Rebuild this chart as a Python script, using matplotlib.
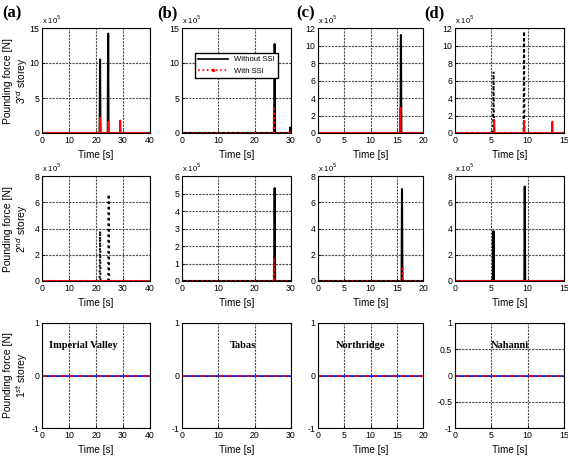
import matplotlib
matplotlib.use('Agg')
import matplotlib.pyplot as plt

plt.rcParams['font.family'] = ['Liberation Sans', 'DejaVu Sans']

# earthquake records, one column each
quakes = ['Imperial Valley', 'Tabas', 'Northridge', 'Nahanni']
panel_tags = ['(a)', '(b)', '(c)', '(d)']
t_max = [40, 30, 20, 15]
x_ticks = [[0, 10, 20, 30, 40], [0, 10, 20, 30], [0, 5, 10, 15, 20], [0, 5, 10, 15]]

# pounding force peaks (time [s], force x1e5 N)
s3_without = [[(21.5, 10.5), (24.5, 14.2)],
              [(25.5, 12.7), (29.8, 0.8)],
              [(15.8, 11.2)],
              [(5.3, 7.0), (9.5, 11.6)]]
s3_with = [[(21.5, 2.2), (24.5, 1.6), (29.0, 1.8)],
           [(25.3, 3.8), (29.8, 0.3)],
           [(15.7, 2.9)],
           [(5.4, 1.5), (9.5, 1.4), (13.4, 1.3)]]
s2_without = [[(21.5, 3.8), (24.7, 6.6)],
              [(25.5, 5.3)],
              [(16.0, 7.0)],
              [(5.3, 3.8), (9.6, 7.2)]]
s2_with = [[], [(25.3, 1.3)], [(16.1, 1.1)], []]
s1_without = [[], [], [], []]
s1_with = [[], [], [], []]

ylim_3 = [15, 15, 12, 12]
yticks_3 = [[0, 5, 10, 15], [0, 5, 10, 15], [0, 2, 4, 6, 8, 10, 12], [0, 2, 4, 6, 8, 10, 12]]
ylim_2 = [8, 6, 8, 8]
yticks_2 = [[0, 2, 4, 6, 8], [0, 1, 2, 3, 4, 5, 6], [0, 2, 4, 6, 8], [0, 2, 4, 6, 8]]
yticks_1 = [[-1, 0, 1], [-1, 0, 1], [-1, 0, 1], [-1, -0.5, 0, 0.5, 1]]

# which spikes look dotted in the original
dotted_3 = [False, False, False, True]
dotted_2 = [True, False, False, False]


def spike_series(spikes, tmax, w=0.004):
    ts = [0.0]
    fs = [0.0]
    dw = w * tmax
    for t, p in spikes:
        ts += [t - dw, t, t + dw]
        fs += [0.0, p, 0.0]
    ts.append(tmax)
    fs.append(0.0)
    return ts, fs


W, H = 568, 457
fig = plt.figure(figsize=(W / 100, H / 100), dpi=100)

lefts = [42, 182, 318, 455]
widths = [108, 109, 105, 109]
tops = [28, 176, 323]
ht = 105
tag_x = [2, 157, 296, 424]


def make_ax(col, row):
    l = lefts[col] / W
    b = 1 - (tops[row] + ht) / H
    ax = fig.add_axes([l, b, widths[col] / W, ht / H])
    ax.grid(True, color='0.3', linestyle=(0, (2, 1)), linewidth=0.8)
    ax.tick_params(labelsize=6.3, length=2, width=0.6, direction='in', pad=2)
    for s in ax.spines.values():
        s.set_linewidth(0.8)
    ax.set_xlabel('Time [s]', fontsize=7.2, labelpad=4)
    return ax


def add_scale(ax):
    ax.text(0.0, 1.02, r'x 10$^5$', transform=ax.transAxes, fontsize=5.5,
            ha='left', va='bottom')


for c in range(4):
    tm = t_max[c]

    # 3rd storey
    ax = make_ax(c, 0)
    t, f = spike_series(s3_without[c], tm)
    ls = ':' if dotted_3[c] else '-'
    ax.plot(t, f, color='black', linewidth=1.5, linestyle=ls)
    t, f = spike_series(s3_with[c], tm)
    ls_r = ':' if c == 1 else '-'
    ax.plot(t, f, color='red', linewidth=1.3, linestyle=ls_r)
    ax.set_xlim(0, tm)
    ax.set_ylim(0, ylim_3[c])
    ax.set_xticks(x_ticks[c])
    ax.set_yticks(yticks_3[c])
    add_scale(ax)
    if c == 1:
        h1, = ax.plot([], [], color='black', linewidth=1.2)
        h2, = ax.plot([], [], color='red', linewidth=1.2, linestyle=':',
                      marker='.', markersize=3)
        ax.legend([h1, h2], ['Without SSI', 'With SSI'], loc='upper left',
                  bbox_to_anchor=(0.08, 0.80), fontsize=5.5, frameon=True,
                  fancybox=False, edgecolor='black', framealpha=1,
                  handlelength=4, borderpad=0.4, labelspacing=0.6)
    fig.text(tag_x[c] / W, 1 - 13 / H, panel_tags[c], fontsize=12,
             fontweight='bold', family=['Liberation Serif', 'DejaVu Serif'],
             ha='left', va='center')

    # 2nd storey
    ax = make_ax(c, 1)
    t, f = spike_series(s2_without[c], tm)
    ls = ':' if dotted_2[c] else '-'
    ax.plot(t, f, color='black', linewidth=1.5, linestyle=ls)
    t, f = spike_series(s2_with[c], tm)
    ax.plot(t, f, color='red', linewidth=1.3, linestyle=':' if c in (1, 2) else '-')
    ax.set_xlim(0, tm)
    ax.set_ylim(0, ylim_2[c])
    ax.set_xticks(x_ticks[c])
    ax.set_yticks(yticks_2[c])
    add_scale(ax)

    # 1st storey
    ax = make_ax(c, 2)
    t, f = spike_series(s1_without[c], tm)
    ax.plot(t, f, color='blue', linewidth=1.1)
    t, f = spike_series(s1_with[c], tm)
    ax.plot(t, f, color='red', linewidth=1.1, linestyle=(0, (3, 3)))
    ax.set_xlim(0, tm)
    ax.set_ylim(-1, 1)
    ax.set_xticks(x_ticks[c])
    ax.set_yticks(yticks_1[c])
    ax.set_yticklabels([('%g' % v) for v in yticks_1[c]])
    tx = [0.38, 0.56, 0.40, 0.50][c]
    ax.text(tx, 0.79, quakes[c], transform=ax.transAxes, fontsize=7.5,
            fontweight='bold', family=['Liberation Serif', 'DejaVu Serif'],
            ha='center', va='center')

# row labels
storey = [r'3$^{rd}$ storey', r'2$^{nd}$ storey', r'1$^{st}$ storey']
for r in range(3):
    yc = 1 - (tops[r] + ht / 2) / H
    fig.text(8 / W, yc, 'Pounding force [N]', rotation=90, fontsize=7.5,
             ha='center', va='center')
    fig.text(22 / W, yc, storey[r], rotation=90, fontsize=7.5,
             ha='center', va='center')

fig.savefig('out.png', dpi=100)
